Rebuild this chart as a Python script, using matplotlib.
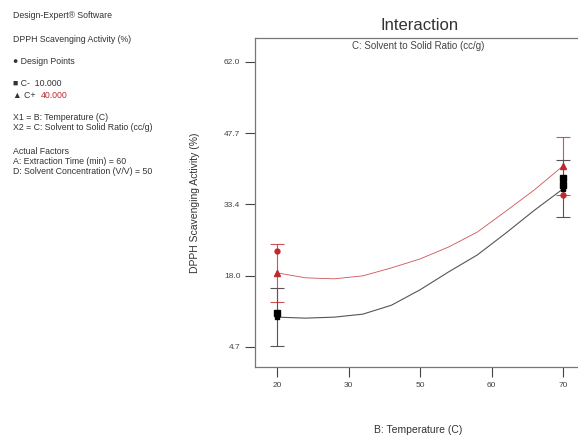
import matplotlib
matplotlib.use('Agg')
import matplotlib.pyplot as plt
import numpy as np

plt.rcParams['font.family'] = ['Liberation Sans', 'DejaVu Sans']

# model predictions
temp = [20, 25, 30, 35, 40, 45, 50, 55, 60, 65, 70]
pred_low = [10.7, 10.5, 10.7, 11.3, 13.1, 16.2, 19.8, 23.2, 27.6, 32.2, 36.5]   # C- 10.000
pred_high = [19.6, 18.6, 18.4, 19.0, 20.6, 22.4, 24.8, 27.8, 32.0, 36.3, 41.1]  # C+ 40.000

# LSD bars at the ends
end_x = [20, 70]
low_end = [10.7, 36.5]
high_end = [19.6, 41.1]
low_err = [5.9, 5.7]
high_err = [5.8, 5.8]

# design points
dp_low_x = [20, 70, 70]
dp_low_y = [11.5, 37.2, 38.6]
dp_high_x = [20, 70]
dp_high_y = [24.0, 35.3]

xticks = np.linspace(20, 70, 5)
xtick_labels = ['20', '30', '50', '60', '70']
yticks = np.linspace(4.7, 62.0, 5)
ytick_labels = ['4.7', '18.0', '33.4', '47.7', '62.0']

red = '#c0282d'
grey = '#555555'

fig = plt.figure(figsize=(5.78, 4.41), dpi=100)
ax = fig.add_axes([255/578, 1 - 367/441, 327/578, 329/441])

ax.plot(temp, pred_low, color=grey, lw=0.8)
ax.plot(temp, pred_high, color=red, lw=0.6, alpha=0.8)

ax.errorbar(end_x, low_end, yerr=low_err, fmt='none', ecolor=grey, elinewidth=0.8, capsize=5, capthick=0.8)
ax.errorbar(end_x, high_end, yerr=high_err, fmt='none', ecolor=red, elinewidth=0.8, capsize=5, capthick=0.8, alpha=0.8)

ax.plot(end_x, low_end, 's', color='black', ms=3)
ax.plot(end_x, high_end, '^', color=red, ms=4)
ax.plot(dp_low_x, dp_low_y, 's', color='black', ms=4)
ax.plot(dp_high_x, dp_high_y, 'o', color=red, ms=3.5)

ax.set_xlim(16.15, 73.3)
ax.set_ylim(0.68, 66.8)
ax.set_xticks(xticks)
ax.set_xticklabels(xtick_labels)
ax.set_yticks(yticks)
ax.set_yticklabels(ytick_labels)
ax.tick_params(labelsize=6, colors='#444444', length=7, width=0.8, direction='out')
ax.tick_params(axis='x', pad=4)
for s in ax.spines.values():
    s.set_color('#777777')
    s.set_linewidth(0.9)

ax.set_xlabel('B: Temperature (C)', fontsize=7.5, color='#333333', labelpad=26)
ax.set_ylabel('DPPH Scavenging Activity (%)', fontsize=7.5, color='#333333', labelpad=17)
fig.text(420/578, 1 - 25/441, 'Interaction', fontsize=12, color='#333333', ha='center', va='center')
ax.text(0.5, 0.975, 'C: Solvent to Solid Ratio (cc/g)', transform=ax.transAxes, fontsize=7,
        color='#444444', ha='center', va='center')

# left info panel
fs = 6.3
tc = '#333333'
def note(y, s, color=tc, x=13):
    fig.text(x/578, 1 - y/441, s, fontsize=fs, color=color, va='center')

note(15, 'Design-Expert® Software')
note(39, 'DPPH Scavenging Activity (%)')
note(62, '● Design Points')
note(83, '■ C-  10.000')
note(95, '▲ C+')
note(95, '40.000', color=red, x=41)
note(118, 'X1 = B: Temperature (C)')
note(127, 'X2 = C: Solvent to Solid Ratio (cc/g)')
note(152, 'Actual Factors')
note(162, 'A: Extraction Time (min) = 60')
note(172, 'D: Solvent Concentration (V/V) = 50')

fig.savefig('out.png', dpi=100)
